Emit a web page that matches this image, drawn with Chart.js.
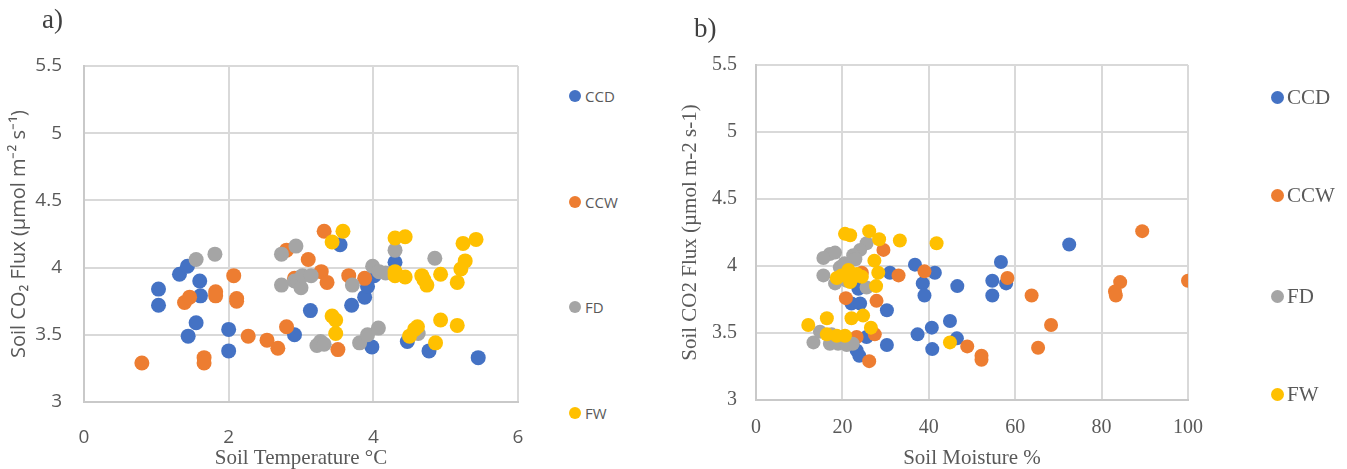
<!DOCTYPE html>
<html>
<head>
<meta charset="utf-8">
<title>Soil CO2 flux vs soil temperature and soil moisture</title>
<script src="https://cdn.jsdelivr.net/npm/chart.js@4.4.1/dist/chart.umd.min.js"></script>
<style>
  html, body { margin: 0; padding: 0; background: #fff; }
  body { position: relative; width: 1347px; height: 469px; overflow: hidden; }
  .panel { position: absolute; top: 0; }
  .panel canvas { position: absolute; left: 0; top: 0; }
  .tag { position: absolute; font-family: "Liberation Serif", "Times New Roman", serif; color: #404040; font-size: 27px; line-height: 1; }
  .legend-dot { position: absolute; border-radius: 50%; }
  .legend-text { position: absolute; white-space: nowrap; color: #595959; }
</style>
</head>
<body>
<div class="panel" style="left:0;width:540px;height:469px;">
  <canvas id="chartA" width="540" height="469"></canvas>
</div>
<div class="panel" style="left:680px;width:667px;height:469px;">
  <canvas id="chartB" width="667" height="469"></canvas>
</div>
<div class="tag" style="left:42px;top:6px;">a)</div>
<div class="tag" style="left:694px;top:15px;">b)</div>
<div id="legendA"></div>
<div id="legendB"></div>

<script>
// ---- series ----
const seriesNames = ['CCD', 'CCW', 'FD', 'FW'];
const seriesColors = ['#4472C4', '#ED7D31', '#A5A5A5', '#FFC000'];

// ---- axis ticks ----
const temperatureTicks = [0, 2, 4, 6];
const moistureTicks = [0, 20, 40, 60, 80, 100];
const fluxTicks = [3, 3.5, 4, 4.5, 5, 5.5];

// ---- a) soil temperature (°C) vs CO2 flux ----
const ccdVsTemp = [[1.03,3.84],[1.03,3.72],[1.32,3.95],[1.43,4.01],[1.60,3.90],[1.61,3.79],[1.55,3.59],[1.44,3.49],
  [2.00,3.54],[2.00,3.38],[2.91,3.50],[3.13,3.68],[3.54,4.17],[3.70,3.72],[3.88,3.78],[3.92,3.86],[4.01,3.94],
  [3.98,3.41],[4.30,4.04],[4.47,3.45],[4.77,3.38],[5.45,3.33]];
const ccwVsTemp = [[0.80,3.29],[1.39,3.74],[1.46,3.78],[1.82,3.82],[1.82,3.79],[2.07,3.94],[2.11,3.77],[2.11,3.75],
  [1.66,3.33],[1.66,3.29],[2.27,3.49],[2.53,3.46],[2.68,3.40],[2.80,3.56],[2.80,4.13],[2.91,3.92],[3.10,4.06],
  [3.28,3.97],[3.32,4.27],[3.36,3.89],[3.51,3.39],[3.66,3.94],[3.88,3.92]];
const fdVsTemp = [[1.55,4.06],[1.81,4.10],[2.73,4.10],[2.93,4.16],[2.73,3.87],[2.91,3.90],[2.96,3.89],[3.00,3.85],
  [3.02,3.94],[3.14,3.94],[3.71,3.87],[3.99,4.01],[4.08,3.97],[4.17,3.96],[4.30,4.13],[4.85,4.07],[3.22,3.42],
  [3.27,3.45],[3.32,3.43],[3.81,3.44],[3.92,3.50],[4.07,3.55],[4.62,3.51]];
const fwVsTemp = [[3.58,4.27],[3.43,4.19],[4.30,4.22],[4.44,4.23],[5.24,4.18],[5.42,4.21],[5.27,4.05],[5.21,3.99],
  [5.16,3.89],[4.93,3.95],[4.67,3.94],[4.70,3.91],[4.74,3.87],[4.30,3.97],[4.30,3.94],[4.44,3.93],[3.43,3.64],
  [3.48,3.61],[3.48,3.51],[4.50,3.49],[4.57,3.54],[4.61,3.56],[4.86,3.44],[4.93,3.61],[5.16,3.57]];

// ---- b) soil moisture (%) vs CO2 flux ----
const ccdVsMoisture = [[72.5,4.16],[56.7,4.03],[54.7,3.89],[57.9,3.87],[54.7,3.78],[46.6,3.85],[36.8,4.01],[41.4,3.95],
  [38.6,3.87],[39.0,3.78],[31.0,3.95],[23.7,3.83],[22.1,3.72],[24.1,3.72],[30.3,3.67],[44.9,3.59],[46.5,3.46],
  [40.7,3.54],[37.4,3.49],[40.8,3.38],[30.3,3.41],[25.6,3.47],[23.3,3.37],[23.9,3.33]];
const ccwVsMoisture = [[89.4,4.26],[100,3.89],[84.3,3.88],[83.1,3.81],[83.3,3.78],[58.2,3.91],[63.8,3.78],[68.3,3.56],
  [65.3,3.39],[52.2,3.33],[52.2,3.30],[48.9,3.40],[39.0,3.96],[33.0,3.93],[29.5,4.12],[27.9,3.74],[20.8,3.76],
  [27.5,3.49],[23.3,3.47],[26.2,3.29],[24.5,3.95]];
const fdVsMoisture = [[25.6,4.17],[24.1,4.12],[22.5,4.08],[23.0,4.05],[17.1,4.09],[18.3,4.10],[15.6,4.06],[15.6,3.93],
  [18.3,3.87],[19.4,3.99],[20.5,4.02],[21.0,3.89],[25.6,3.84],[13.3,3.43],[14.8,3.51],[17.1,3.42],[17.5,3.49],
  [19.0,3.42],[21.0,3.41],[22.4,3.42]];
const fwVsMoisture = [[20.6,4.24],[21.8,4.23],[26.2,4.26],[28.5,4.20],[33.3,4.19],[41.8,4.17],[27.4,4.04],[28.3,3.95],
  [27.8,3.85],[18.7,3.91],[19.8,3.93],[21.4,3.97],[22.1,3.90],[23.3,3.94],[24.5,3.92],[21.8,3.88],[12.1,3.56],
  [16.4,3.61],[16.4,3.49],[18.7,3.48],[20.6,3.48],[22.1,3.61],[24.8,3.63],[26.6,3.54],[44.9,3.43]];

const GRID = '#d9d9d9';
const AXIS = '#c9c9c9';
const TEXT = '#595959';

function fixedTicks(values) {
  return scale => { scale.ticks = values.map(v => ({ value: v })); };
}

function makeDatasets(seriesData, radius) {
  return seriesNames.map((name, i) => ({
    label: name,
    data: seriesData[i].map(([x, y]) => ({ x, y })),
    backgroundColor: seriesColors[i],
    borderColor: seriesColors[i],
    borderWidth: 0,
    pointRadius: radius,
    pointHoverRadius: radius,
    // later series sit on top of earlier ones
    order: seriesNames.length - i
  }));
}

function makeScatter(canvasId, p) {
  return new Chart(document.getElementById(canvasId), {
    type: 'scatter',
    data: { datasets: makeDatasets(p.data, p.radius) },
    options: {
      responsive: false,
      animation: false,
      events: [],
      layout: { padding: { left: 0, top: p.top, right: p.right, bottom: 0 } },
      plugins: { legend: { display: false }, tooltip: { enabled: false } },
      scales: {
        x: {
          type: 'linear',
          min: p.xTicks[0],
          max: p.xTicks[p.xTicks.length - 1],
          afterBuildTicks: fixedTicks(p.xTicks),
          afterFit: s => { s.height = p.xHeight; },
          // an invisible tick mark pushes the labels down without widening the side padding
          grid: { color: GRID, lineWidth: 2, drawTicks: true, tickLength: p.xTickGap, tickColor: 'rgba(0,0,0,0)' },
          border: { color: AXIS, width: 2 },
          ticks: { color: TEXT, font: p.tickFont, padding: 2, maxRotation: 0, callback: v => String(v) },
          title: { display: true, text: p.xTitle, color: TEXT, font: p.xTitleFont, padding: p.xTitlePad }
        },
        y: {
          type: 'linear',
          min: fluxTicks[0],
          max: fluxTicks[fluxTicks.length - 1],
          afterBuildTicks: fixedTicks(fluxTicks),
          afterFit: s => { s.width = p.yWidth; },
          grid: { color: GRID, lineWidth: 2, drawTicks: false },
          border: { color: AXIS, width: 2 },
          ticks: { color: TEXT, font: p.tickFont, padding: p.yTickPad, callback: v => String(v) },
          title: { display: true, text: p.yTitle, color: TEXT, font: p.yTitleFont, padding: p.yTitlePad }
        }
      }
    }
  });
}

// a) temperature panel
makeScatter('chartA', {
  data: [ccdVsTemp, ccwVsTemp, fdVsTemp, fwVsTemp],
  radius: 7.5,
  top: 66, right: 22, xHeight: 67, yWidth: 84,
  xTicks: temperatureTicks,
  tickFont: { family: 'Open Sans', size: 19, lineHeight: 1 },
  xTickGap: 24, yTickPad: 22,
  xTitle: 'Soil Temperature °C',
  xTitleFont: { family: 'Liberation Serif', size: 21, lineHeight: 1 },
  xTitlePad: { top: 0, bottom: 0.5 },
  yTitle: 'Soil CO₂ Flux (µmol m⁻² s⁻¹)',
  yTitleFont: { family: 'Open Sans', size: 20, lineHeight: 1 },
  yTitlePad: { top: 9, bottom: 0 }
});

// b) moisture panel
makeScatter('chartB', {
  data: [ccdVsMoisture, ccwVsMoisture, fdVsMoisture, fwVsMoisture],
  radius: 7,
  top: 65, right: 159, xHeight: 69, yWidth: 76,
  xTicks: moistureTicks,
  tickFont: { family: 'Liberation Serif', size: 20, lineHeight: 1 },
  xTickGap: 16, yTickPad: 19,
  xTitle: 'Soil Moisture %',
  xTitleFont: { family: 'Liberation Serif', size: 21, lineHeight: 1 },
  xTitlePad: { top: 0, bottom: 0.5 },
  yTitle: 'Soil CO2 Flux (µmol m-2 s-1)',
  yTitleFont: { family: 'Liberation Serif', size: 21, lineHeight: 1 },
  yTitlePad: { top: 0, bottom: 0 }
});

// ---- legends (one entry per series, stacked down the right side) ----
function buildLegend(containerId, L) {
  const box = document.getElementById(containerId);
  seriesNames.forEach((name, i) => {
    const dot = document.createElement('div');
    dot.className = 'legend-dot';
    dot.style.left = (L.x - L.r) + 'px';
    dot.style.top = (L.ys[i] - L.r) + 'px';
    dot.style.width = dot.style.height = (2 * L.r) + 'px';
    dot.style.background = seriesColors[i];
    box.appendChild(dot);
    const txt = document.createElement('div');
    txt.className = 'legend-text';
    txt.textContent = name;
    txt.style.fontFamily = L.family;
    txt.style.fontSize = L.size + 'px';
    txt.style.lineHeight = L.size + 'px';
    txt.style.left = L.textX + 'px';
    txt.style.top = (L.ys[i] - L.size / 2) + 'px';
    box.appendChild(txt);
  });
}
buildLegend('legendA', { x: 575, r: 6, ys: [96, 202, 307, 413], textX: 585, family: '"Open Sans", sans-serif', size: 15 });
buildLegend('legendB', { x: 1277, r: 6.5, ys: [97, 195, 296, 394], textX: 1287, family: '"Liberation Serif", serif', size: 21 });
</script>
</body>
</html>
